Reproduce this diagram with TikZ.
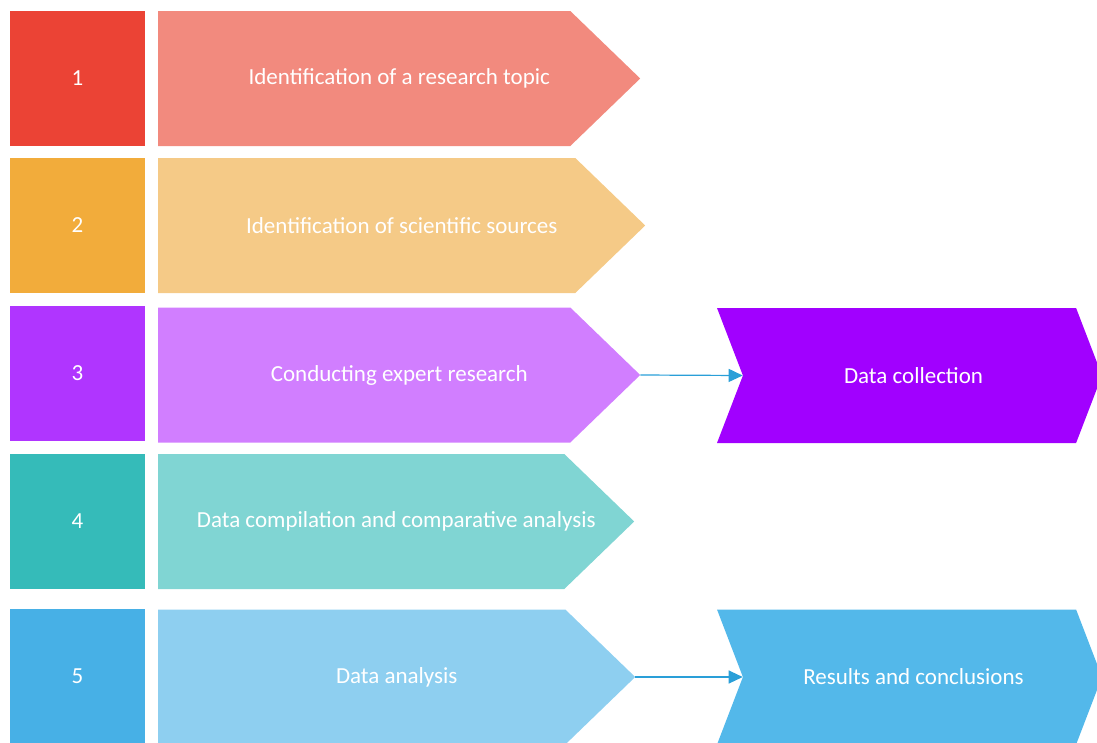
\documentclass[tikz,border=0pt]{standalone}
\usepackage{fontspec}
\setmainfont{Carlito}
\usepackage{tikz}
\usetikzlibrary{positioning,shapes.symbols,arrows.meta}

\definecolor{red1}{HTML}{EB4335}
\definecolor{red2}{HTML}{F28A7E}
\definecolor{orange1}{HTML}{F2AC3B}
\definecolor{orange2}{HTML}{F5CA87}
\definecolor{purple1}{HTML}{B035FF}
\definecolor{purple2}{HTML}{D17EFF}
\definecolor{purple3}{HTML}{A100FF}
\definecolor{teal1}{HTML}{35BBB9}
\definecolor{teal2}{HTML}{80D5D3}
\definecolor{blue1}{HTML}{47B0E6}
\definecolor{blue2}{HTML}{8ECFF0}
\definecolor{blue3}{HTML}{53B8EA}
\definecolor{linkblue}{HTML}{2A9FD8}

\tikzset{
	num/.style={shape=rectangle,fill=#1,minimum width=135,minimum height=135,inner sep=0,text=white},
	stage/.style={shape=signal,signal to=east,signal pointer angle=88,fill=#1,minimum width=482,minimum height=135,inner sep=0,anchor=west},
	result/.style={shape=signal,signal from=west,signal to=east,signal pointer angle=138,fill=#1,minimum width=385,minimum height=135,inner sep=0},
	txt/.style={text=white,xshift=35},
	flow/.style={-{Triangle[length=14pt,width=13pt]},color=linkblue,line width=1.2pt}
}

\begin{document}
\begin{tikzpicture}[x=1pt,y=-1pt,font=\fontsize{23}{27}\selectfont]
	\useasboundingbox (0,0) rectangle (1097,742);
	
	\node[num=red1] (1) at (77.5,78.5) {1};
	\node[num=orange1] (2) at (77.5,225.5) {2};
	\node[num=purple1] (3) at (77.5,373.5) {3};
	\node[num=teal1] (4) at (77.5,521.5) {4};
	\node[num=blue1] (5) at (77.5,676.5) {5};
	
	\node[stage=red2,label={[txt]center:Identification of a research topic}] (1a) at (158,78.5) {};
	\node[stage=orange2,minimum width=487,label={[txt]center:Identification of scientific sources}] (2a) at (158,225.5) {};
	\node[stage=purple2,label={[txt]center:Conducting expert research}] (3a) at (158,375) {};
	\node[stage=teal2,minimum width=476,label={[txt]center:Data compilation and comparative analysis}] (4a) at (158,521.5) {};
	\node[stage=blue2,minimum width=477,label={[txt]center:Data analysis}] (5a) at (158,677) {};
	
	\node[result=purple3,label={[txt,xshift=-31]center:Data collection}] (3b) at (909.5,375.5) {};
	\node[result=blue3,label={[txt,xshift=-31]center:Results and conclusions}] (5b) at (909.5,677) {};
	
	\draw [flow] (3a.east) -- (3b.west);
	\draw [flow] (5a.east) -- (5b.west);
	
\end{tikzpicture}
\end{document}
